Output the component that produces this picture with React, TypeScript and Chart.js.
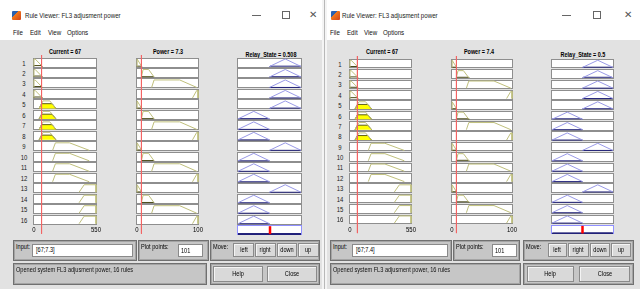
import React, { useEffect, useRef } from "react";
import { Chart, registerables } from "chart.js";
Chart.register(...registerables);

// ---------------- data ----------------
const ruleNumbers = ["1", "2", "3", "4", "5", "6", "7", "8", "9", "10", "11", "12", "13", "14", "15", "16"];
const currentRange = [0, 550];
const powerRange = [0, 100];
const relayRange = [0, 1];
const currentTicks = [0, 550];
const powerTicks = [0, 100];

const currentMfLow = [0, 0, 10, 75];
const currentMfMedium = [45, 80, 140, 195];
const currentMfHigh = [165, 190, 315, 490];
const currentMfVeryHigh = [400, 445, 550, 550];
const powerMfLow = [0, 0, 0.5, 7.6];
const powerMfMedium = [7.2, 10, 19, 28];
const powerMfHigh = [24, 28, 70, 98];
const powerMfVeryHigh = [91, 98, 100, 100];
const relayMfOff = [0, 0.25, 0.25, 0.5];
const relayMfOn = [0.5, 0.75, 0.75, 1];

const currentMfs = [currentMfLow, currentMfMedium, currentMfHigh, currentMfVeryHigh];
const powerMfs = [powerMfLow, powerMfMedium, powerMfHigh, powerMfVeryHigh];
const relayMfs = [relayMfOff, relayMfOn];

const ruleCurrentMf = [0, 0, 0, 0, 1, 1, 1, 1, 2, 2, 2, 2, 3, 3, 3, 3];
const rulePowerMf = [0, 1, 2, 3, 0, 1, 2, 3, 0, 1, 2, 3, 0, 1, 2, 3];
const ruleRelayMf = [1, 1, 1, 1, 1, 0, 0, 0, 1, 0, 0, 0, 1, 0, 0, 0];

const currentInputs = [67, 67];
const powerInputs = [7.3, 7.4];
const relayOutputs = [0.508, 0.5];
const inputTexts = ["[67;7.3]", "[67;7.4]"];
const plotPoints = ["101", "101"];
const windowTitle = "Rule Viewer: FL3 adjusment power";
const menuItems = ["File", "Edit", "View", "Options"];
const moveButtons = ["left", "right", "down", "up"];
const statusText = "Opened system FL3 adjusment power, 16 rules";

// ---------------- layout ----------------
const winLayouts = [
  {
    x0: 0, x1: 322, rowTop: 58.5, pitch: 10.48, boxH: 8, labelX: 23.5,
    cur: [34, 96], pow: [137, 198], rel: [238, 301],
    curTitleX: 65, powTitleX: 168, relTitleX: 270.5,
    iconX: 12, titleX: 25, minX: 252, maxX: 282, closeX: 313,
    menuX: [13, 30, 48, 67],
    inFrame: [13, 137], inField: [32, 133], ppFrame: [137.5, 208.5], ppField: [178, 203], moveFrame: [210, 320],
    btns: [[233, 254], [255, 275.5], [276.5, 297], [298, 318.5]], status: [13, 207], help: [212.5, 263], close: [266.5, 317],
  },
  {
    x0: 327, x1: 640, rowTop: 59.8, pitch: 10.38, boxH: 7.6, labelX: 340,
    cur: [350, 411], pow: [452, 512], rel: [552, 613],
    curTitleX: 382, powTitleX: 478.5, relTitleX: 583,
    iconX: 331, titleX: 342, minX: 562, maxX: 593, closeX: 628,
    menuX: [330, 347, 364, 383],
    inFrame: [330, 452], inField: [352, 448], ppFrame: [453, 520], ppField: [492, 517], moveFrame: [523, 634],
    btns: [[547.5, 567], [568, 588.5], [589.5, 609.5], [610.5, 630.5]], status: [330, 521], help: [527, 573.5], close: [579, 630],
  },
];

const FONT = '"Liberation Sans", Arial, sans-serif';
const PANEL = "#e2e2e2";
const FRAME = "#c6c6c6";

type Pt = { x: number; y: number };

function trapMu(mf: number[], v: number) {
  const [a, b, c, d] = mf;
  if (v < a || v > d) return 0;
  if (v >= b && v <= c) return 1;
  if (v < b) return b === a ? 1 : (v - a) / (b - a);
  return d === c ? 1 : (d - v) / (d - c);
}
function trapPoints(mf: number[], base: number, h: number): Pt[] {
  return [
    { x: mf[0], y: base },
    { x: mf[1], y: base + h },
    { x: mf[2], y: base + h },
    { x: mf[3], y: base },
  ];
}
function clipPoints(mf: number[], base: number, h: number, m: number): Pt[] {
  return [
    { x: mf[0], y: base },
    { x: mf[0] + m * (mf[1] - mf[0]), y: base + m * h },
    { x: mf[3] - m * (mf[3] - mf[2]), y: base + m * h },
    { x: mf[3], y: base },
  ];
}

const rowBoxesPlugin = {
  id: "rowBoxes",
  beforeDatasetsDraw(chart: any, _a: any, opts: any) {
    const { ctx } = chart;
    const xs = chart.scales.x, ys = chart.scales.y;
    ctx.save();
    const x1 = Math.round(xs.getPixelForValue(xs.min));
    const x2 = Math.round(xs.getPixelForValue(xs.max));
    for (const r of opts.rows) {
      const y1 = Math.round(ys.getPixelForValue(r.top));
      const y2 = Math.round(ys.getPixelForValue(r.bottom));
      ctx.fillStyle = "#ffffff";
      ctx.fillRect(x1, y1, x2 - x1, y2 - y1);
      ctx.strokeStyle = r.agg ? "#9090ff" : "#8e8e8e";
      ctx.lineWidth = 1;
      ctx.strokeRect(x1 - 0.5, y1 - 0.5, x2 - x1 + 1, y2 - y1 + 1);
    }
    ctx.restore();
  },
  afterDatasetsDraw(chart: any, _a: any, opts: any) {
    if (!opts.ticks || !opts.ticks.length) return;
    const { ctx } = chart;
    const xs = chart.scales.x, ys = chart.scales.y;
    ctx.save();
    ctx.fillStyle = "#000";
    ctx.font = `7px ${FONT}`;
    ctx.textAlign = "center";
    ctx.textBaseline = "middle";
    for (const t of opts.ticks) {
      const x = xs.getPixelForValue(t);
      const y = ys.getPixelForValue(opts.tickY);
      ctx.save();
      ctx.translate(x, y);
      ctx.scale(0.85, 1);
      ctx.fillText(String(t), 0, 0);
      ctx.restore();
    }
    ctx.restore();
  },
};

type ColProps = {
  left: number; top: number; width: number; height: number; pad: number;
  range: number[]; yMin: number; yMax: number;
  datasets: any[]; rows: any[]; ticks: number[]; tickY: number;
};

function RuleColumn(p: ColProps) {
  const ref = useRef<HTMLCanvasElement>(null);
  useEffect(() => {
    const chart = new Chart(ref.current as HTMLCanvasElement, {
      type: "scatter",
      data: { datasets: p.datasets },
      options: {
        responsive: false,
        animation: false,
        devicePixelRatio: 1,
        events: [],
        layout: { padding: { left: p.pad, right: p.pad, top: 0, bottom: 0 } },
        scales: {
          x: { type: "linear", min: p.range[0], max: p.range[1], display: false },
          y: { type: "linear", min: p.yMin, max: p.yMax, display: false },
        },
        plugins: {
          legend: { display: false },
          tooltip: { enabled: false },
          rowBoxes: { rows: p.rows, ticks: p.ticks, tickY: p.tickY },
        } as any,
      },
      plugins: [rowBoxesPlugin as any],
    });
    return () => chart.destroy();
  }, []);
  return (
    <canvas
      ref={ref}
      width={p.width}
      height={p.height}
      style={{ position: "absolute", left: p.left, top: p.top, width: p.width, height: p.height }}
    />
  );
}

function lineDs(data: Pt[], color: string, width: number, order: number, extra: any = {}) {
  return {
    data, showLine: true, borderColor: color, borderWidth: width, pointRadius: 0,
    fill: false, order, clip: false, tension: 0, ...extra,
  };
}

function buildColumn(w: number, kind: "current" | "power" | "relay") {
  const L = winLayouts[w];
  const box = kind === "current" ? L.cur : kind === "power" ? L.pow : L.rel;
  const range = kind === "current" ? currentRange : kind === "power" ? powerRange : relayRange;
  const pad = 10;
  const top = Math.round(L.rowTop - 4);
  const height = 186;
  const yMax = 16 + (L.rowTop - top) / L.pitch;
  const yMin = yMax - height / L.pitch;
  const bh = L.boxH / L.pitch;
  const h = bh * 0.94;
  const nRows = kind === "relay" ? 17 : 16;
  const rows = [];
  for (let i = 1; i <= nRows; i++) rows.push({ top: 17 - i, bottom: 17 - i - bh, agg: i === 17 });
  const row16Bottom = 1 - bh;
  const datasets: any[] = [];
  const cv = currentInputs[w], pv = powerInputs[w];
  ruleNumbers.forEach((_, idx) => {
    const base = 16 - idx - bh;
    if (kind !== "relay") {
      const mf = kind === "current" ? currentMfs[ruleCurrentMf[idx]] : powerMfs[rulePowerMf[idx]];
      const v = kind === "current" ? cv : pv;
      const m = trapMu(mf, v);
      datasets.push(lineDs(trapPoints(mf, base, h), "#c0c07c", 1, 2));
      if (m > 0.25) {
        datasets.push(lineDs(clipPoints(mf, base, h, m), "#5c5c14", 1, 3, {
          fill: { value: base }, backgroundColor: "#ffff00",
        }));
      } else if (m > 0) {
        datasets.push(lineDs(clipPoints(mf, base, h, m), "#4a4a18", 1, 3));
      }
    } else {
      const mf = relayMfs[ruleRelayMf[idx]];
      const s = Math.min(trapMu(currentMfs[ruleCurrentMf[idx]], cv), trapMu(powerMfs[rulePowerMf[idx]], pv));
      datasets.push(lineDs(trapPoints(mf, base, h), "#9a9ae8", 1, 2));
      datasets.push(lineDs(clipPoints(mf, base, h, s), "#22227a", 1, 3));
      const aggBase = -bh;
      datasets.push(lineDs(clipPoints(mf, aggBase, h, s), "#22227a", 1, 3));
    }
  });
  if (kind === "relay") {
    const out = relayOutputs[w];
    datasets.push(lineDs([{ x: out, y: -bh }, { x: out, y: 0 }], "#ff0000", 2.5, 0));
  } else {
    const v = kind === "current" ? cv : pv;
    datasets.push(lineDs([{ x: v, y: yMax }, { x: v, y: row16Bottom - 10 / L.pitch }], "#f26464", 1, 0));
  }
  return {
    left: box[0] - pad, top, width: box[1] - box[0] + 2 * pad, height, pad, range, yMin, yMax,
    datasets, rows, ticks: kind === "current" ? currentTicks : kind === "power" ? powerTicks : [],
    tickY: row16Bottom - 6.5 / L.pitch,
  };
}

function Txt({ x, y, s, size = 7, bold = false, align = "left", color = "#000", sx = 0.82 }: any) {
  const tx = align === "center" ? "-50%" : align === "right" ? "-100%" : "0";
  return (
    <div
      style={{
        position: "absolute", left: x, top: y, fontSize: size, fontWeight: bold ? 700 : 400, color,
        whiteSpace: "nowrap", lineHeight: 1, fontFamily: FONT,
        transform: `translate(${tx},-50%) scaleX(${sx})`,
        transformOrigin: align === "center" ? "center" : align === "right" ? "right center" : "left center",
      }}
    >
      {s}
    </div>
  );
}

function Rect({ x1, y1, x2, y2, style }: any) {
  return <div style={{ position: "absolute", left: x1, top: y1, width: x2 - x1, height: y2 - y1, boxSizing: "border-box", ...style }} />;
}

const frameStyle = { background: FRAME, border: "1px solid #707070", boxShadow: "inset 0 0 0 1px #a4a4a4" };
const fieldStyle = { background: "#ffffff", border: "1px solid #8a8a8a" };
const btnStyle = { background: "#d9d9d9", border: "1px solid #8a8a8a", boxShadow: "inset 1px 1px 0 #f4f4f4" };

function RuleWindow({ w }: { w: number }) {
  const L = winLayouts[w];
  const cols = [buildColumn(w, "current"), buildColumn(w, "power"), buildColumn(w, "relay")];
  const fy1 = 239.5, fy2 = 260.5, by1 = 244, by2 = 256.5, sy1 = 263, sy2 = 284.5;
  return (
    <>
      {/* title bar & menu */}
      <Rect x1={L.x0} y1={0} x2={L.x1} y2={40} style={{ background: "#ffffff" }} />
      <div style={{ position: "absolute", left: L.iconX, top: 11, width: 9, height: 9,
        background: "linear-gradient(135deg, #2a62b0 0%, #2a62b0 35%, #f07a1c 36%, #d2421a 100%)", borderRadius: 1 }} />
      <Txt x={L.titleX} y={15.5} s={windowTitle} size={7.5} color="#222" />
      <div style={{ position: "absolute", left: L.minX, top: 15, width: 9, height: 1, background: "#666" }} />
      <div style={{ position: "absolute", left: L.maxX, top: 11, width: 8, height: 8, border: "1px solid #666", boxSizing: "border-box" }} />
      <Txt x={L.closeX} y={14.5} s={"✕"} size={10} color="#555" align="center" sx={1} />
      {menuItems.map((m, i) => <Txt key={m} x={L.menuX[i]} y={32.5} s={m} size={7.5} color="#111" />)}
      {/* panel */}
      <Rect x1={L.x0} y1={40} x2={L.x1} y2={289} style={{ background: PANEL }} />
      {/* titles */}
      <Txt x={L.curTitleX} y={50.5} s={`Current = ${currentInputs[w]}`} bold size={7} align="center" sx={0.78} />
      <Txt x={L.powTitleX} y={50.5} s={`Power = ${powerInputs[w]}`} bold size={7} align="center" sx={0.78} />
      <Txt x={L.relTitleX} y={53.5} s={`Relay_State = ${relayOutputs[w]}`} bold size={7} align="center" sx={0.78} />
      {ruleNumbers.map((r, i) => (
        <Txt key={r} x={L.labelX} y={L.rowTop + i * L.pitch + L.boxH / 2} s={r} size={7} align="center" sx={0.85} color="#1a1a1a" />
      ))}
      {cols.map((c, i) => <RuleColumn key={i} {...c} />)}
      {/* bottom frames */}
      <Rect x1={L.inFrame[0]} y1={fy1} x2={L.inFrame[1]} y2={fy2} style={frameStyle} />
      <Txt x={L.inFrame[0] + 3} y={fy1 + 7} s="Input:" size={6.5} sx={0.86} />
      <Rect x1={L.inField[0]} y1={by1} x2={L.inField[1]} y2={by2} style={fieldStyle} />
      <Txt x={L.inField[0] + 4} y={(by1 + by2) / 2} s={inputTexts[w]} size={6.5} sx={0.86} />
      <Rect x1={L.ppFrame[0]} y1={fy1} x2={L.ppFrame[1]} y2={fy2} style={frameStyle} />
      <Txt x={L.ppFrame[0] + 3} y={fy1 + 7} s="Plot points:" size={6.5} sx={0.86} />
      <Rect x1={L.ppField[0]} y1={by1} x2={L.ppField[1]} y2={by2} style={fieldStyle} />
      <Txt x={L.ppField[0] + 3} y={(by1 + by2) / 2 + 0.5} s={plotPoints[w]} size={6.5} sx={0.86} />
      <Rect x1={L.moveFrame[0]} y1={fy1} x2={L.moveFrame[1]} y2={fy2} style={frameStyle} />
      <Txt x={L.moveFrame[0] + 3} y={fy1 + 7} s="Move:" size={6.5} sx={0.86} />
      {moveButtons.map((b, i) => (
        <React.Fragment key={b}>
          <Rect x1={L.btns[i][0]} y1={by1 - 1} x2={L.btns[i][1]} y2={by2 + 0.5} style={btnStyle} />
          <Txt x={(L.btns[i][0] + L.btns[i][1]) / 2} y={(by1 + by2) / 2} s={b} size={6.5} align="center" sx={0.86} />
        </React.Fragment>
      ))}
      <Rect x1={L.status[0]} y1={sy1} x2={L.status[1]} y2={sy2} style={frameStyle} />
      <Txt x={L.status[0] + 3} y={sy1 + 7} s={statusText} size={6.5} sx={0.86} color="#111" />
      <Rect x1={L.moveFrame[0]} y1={sy1} x2={L.moveFrame[1]} y2={sy2} style={frameStyle} />
      <Rect x1={L.help[0]} y1={sy1 + 2.5} x2={L.help[1]} y2={sy2 - 2.5} style={btnStyle} />
      <Txt x={(L.help[0] + L.help[1]) / 2} y={(sy1 + sy2) / 2} s="Help" size={6.5} align="center" sx={0.86} />
      <Rect x1={L.close[0]} y1={sy1 + 2.5} x2={L.close[1]} y2={sy2 - 2.5} style={btnStyle} />
      <Txt x={(L.close[0] + L.close[1]) / 2} y={(sy1 + sy2) / 2} s="Close" size={6.5} align="center" sx={0.86} />
    </>
  );
}

export default function App() {
  return (
    <div style={{ position: "fixed", left: 0, top: 0, width: 640, height: 289, overflow: "hidden", background: "#ffffff", fontFamily: FONT }}>
      <RuleWindow w={0} />
      <div style={{ position: "absolute", left: 322, top: 0, width: 5, height: 289, background: "#f4f4f4" }} />
      <div style={{ position: "absolute", left: 324, top: 0, width: 1, height: 289, background: "#b8b8b8" }} />
      <RuleWindow w={1} />
    </div>
  );
}
